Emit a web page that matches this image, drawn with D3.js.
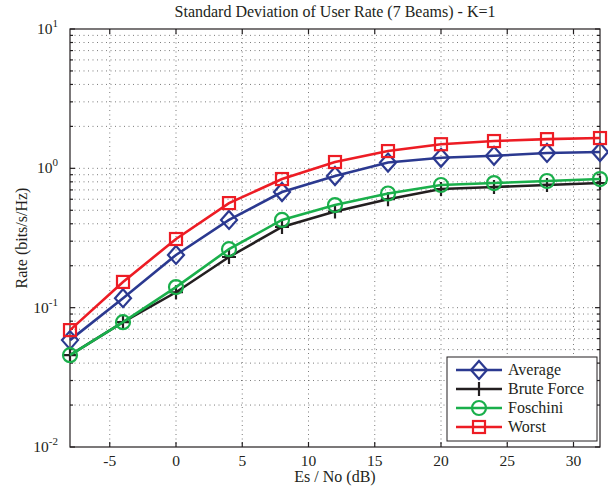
<!DOCTYPE html>
<html>
<head>
<meta charset="utf-8">
<script src="https://cdn.jsdelivr.net/npm/d3@7"></script>
<style>
  body { margin: 0; background: #fff; }
  text { font-family: "Liberation Serif", "DejaVu Serif", serif; fill: #231f20; }
</style>
</head>
<body>
<script>
// Es/No values (dB)
const snr = [-8, -4, 0, 4, 8, 12, 16, 20, 24, 28, 32];

// std. deviation of user rate
const average    = [0.0585, 0.117, 0.239, 0.426, 0.676, 0.881, 1.10, 1.19, 1.23, 1.29, 1.31];
const bruteForce = [0.0456, 0.0787, 0.129, 0.231, 0.38, 0.49, 0.60, 0.71, 0.734, 0.76, 0.785];
const foschini   = [0.0456, 0.0787, 0.1405, 0.263, 0.426, 0.545, 0.66, 0.759, 0.784, 0.811, 0.838];
const worst      = [0.069, 0.153, 0.311, 0.563, 0.838, 1.11, 1.33, 1.49, 1.57, 1.62, 1.65];

const xTicks = [-5, 0, 5, 10, 15, 20, 25, 30];
const yTicks = [0.01, 0.1, 1, 10];

const series = [
  { name: 'Average', values: average, color: '#2b3990', marker: 'diamond' },
  { name: 'Brute Force', values: bruteForce, color: '#231f20', marker: 'plus' },
  { name: 'Foschini', values: foschini, color: '#1aaf4b', marker: 'circle' },
  { name: 'Worst', values: worst, color: '#ed1c24', marker: 'square' }
];

const width = 608, height = 491;
const mLeft = 70, mRight = 600, mTop = 29, mBottom = 447;

let svg = d3.select('body').append('svg')
    .attr('width', width)
    .attr('height', height);

let x = d3.scaleLinear().domain([-8, 32]).range([mLeft, mRight]);
let y = d3.scaleLog().domain([0.01, 10]).range([mBottom, mTop]);

// grid
let grid = svg.append('g')
    .attr('stroke', '#444')
    .attr('stroke-width', 0.7)
    .attr('stroke-dasharray', '1,3.5');

grid.selectAll('.gx')
    .data(xTicks)
    .enter()
    .append('line')
    .attr('x1', d => x(d)).attr('x2', d => x(d))
    .attr('y1', mTop).attr('y2', mBottom);

let minor = [];
for (let e = -2; e < 1; e++) {
  for (let m = 1; m < 10; m++) minor.push(m * Math.pow(10, e));
}
minor.push(10);
grid.selectAll('.gy')
    .data(minor.filter(d => d > 0.01 && d < 10))
    .enter()
    .append('line')
    .attr('x1', mLeft).attr('x2', mRight)
    .attr('y1', d => y(d)).attr('y2', d => y(d));

// box + ticks
let axes = svg.append('g').attr('stroke', '#231f20').attr('stroke-width', 1.2);
axes.append('rect')
    .attr('x', mLeft).attr('y', mTop)
    .attr('width', mRight - mLeft).attr('height', mBottom - mTop)
    .attr('fill', 'none');

xTicks.forEach(t => {
  axes.append('line').attr('x1', x(t)).attr('x2', x(t)).attr('y1', mBottom).attr('y2', mBottom - 5);
  axes.append('line').attr('x1', x(t)).attr('x2', x(t)).attr('y1', mTop).attr('y2', mTop + 5);
});
minor.forEach(t => {
  let len = yTicks.includes(t) ? 5 : 3;
  axes.append('line').attr('x1', mLeft).attr('x2', mLeft + len).attr('y1', y(t)).attr('y2', y(t));
  axes.append('line').attr('x1', mRight).attr('x2', mRight - len).attr('y1', y(t)).attr('y2', y(t));
});

// tick labels
svg.selectAll('.xl')
    .data(xTicks)
    .enter()
    .append('text')
    .attr('x', d => x(d))
    .attr('y', mBottom + 19)
    .attr('text-anchor', 'middle')
    .attr('font-size', 15.5)
    .text(d => d < 0 ? '-' + Math.abs(d) : d);

yTicks.forEach(t => {
  let lab = svg.append('text')
      .attr('x', mLeft - 12)
      .attr('y', y(t) + 5)
      .attr('text-anchor', 'end')
      .attr('font-size', 15.5);
  lab.append('tspan').text('10');
  lab.append('tspan')
      .attr('dy', -7)
      .attr('font-size', 11)
      .text(Math.round(Math.log10(t)));
});

// titles
svg.append('text')
    .attr('x', (mLeft + mRight) / 2)
    .attr('y', 17)
    .attr('text-anchor', 'middle')
    .attr('font-size', 16)
    .text('Standard Deviation of User Rate (7 Beams) - K=1');

svg.append('text')
    .attr('x', (mLeft + mRight) / 2)
    .attr('y', 482)
    .attr('text-anchor', 'middle')
    .attr('font-size', 16)
    .text('Es / No (dB)');

svg.append('text')
    .attr('transform', 'translate(27,' + ((mTop + mBottom) / 2) + ') rotate(-90)')
    .attr('text-anchor', 'middle')
    .attr('font-size', 16)
    .text('Rate (bits/s/Hz)');

/**
 * draw one marker shape at (cx, cy)
 */
function drawMarker(g, kind, cx, cy, color) {
  if (kind === 'diamond') {
    g.append('path')
        .attr('d', 'M' + cx + ',' + (cy - 9) + 'L' + (cx + 8) + ',' + cy + 'L' + cx + ',' + (cy + 9) + 'L' + (cx - 8) + ',' + cy + 'Z')
        .attr('fill', 'none').attr('stroke', color).attr('stroke-width', 2.2);
  } else if (kind === 'square') {
    g.append('rect')
        .attr('x', cx - 6).attr('y', cy - 6).attr('width', 12).attr('height', 12)
        .attr('fill', 'none').attr('stroke', color).attr('stroke-width', 2.2);
  } else if (kind === 'circle') {
    g.append('circle')
        .attr('cx', cx).attr('cy', cy).attr('r', 7)
        .attr('fill', 'none').attr('stroke', color).attr('stroke-width', 2.2);
  } else {
    g.append('path')
        .attr('d', 'M' + (cx - 7) + ',' + cy + 'H' + (cx + 7) + 'M' + cx + ',' + (cy - 7) + 'V' + (cy + 7))
        .attr('stroke', color).attr('stroke-width', 2.2);
  }
}

let line = d3.line()
    .x((d, i) => x(snr[i]))
    .y(d => y(d));

let plot = svg.append('g');
series.forEach(s => {
  plot.append('path')
      .attr('d', line(s.values))
      .attr('fill', 'none')
      .attr('stroke', s.color)
      .attr('stroke-width', 2.6);
  s.values.forEach((v, i) => drawMarker(plot, s.marker, x(snr[i]), y(v), s.color));
});

// legend
let lg = svg.append('g');
lg.append('rect')
    .attr('x', 447).attr('y', 357)
    .attr('width', 150).attr('height', 84)
    .attr('fill', '#fff')
    .attr('stroke', '#231f20')
    .attr('stroke-width', 1);

series.forEach((s, i) => {
  let ly = 370 + i * 19;
  lg.append('line')
      .attr('x1', 456).attr('x2', 502)
      .attr('y1', ly).attr('y2', ly)
      .attr('stroke', s.color).attr('stroke-width', 2.6);
  drawMarker(lg, s.marker, 479, ly, s.color);
  lg.append('text')
      .attr('x', 508).attr('y', ly + 5)
      .attr('font-size', 16)
      .text(s.name);
});
</script>
</body>
</html>
